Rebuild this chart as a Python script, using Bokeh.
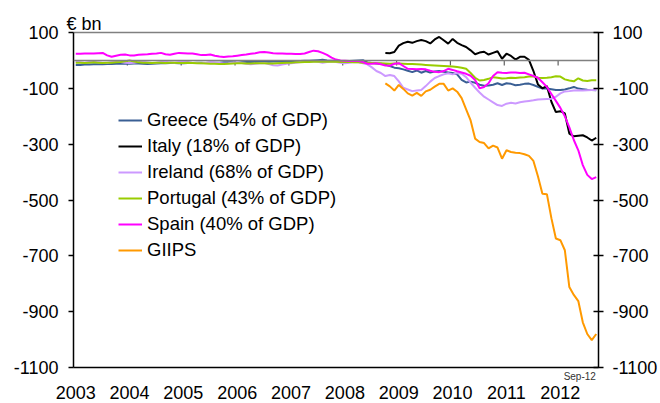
import pandas as pd
from bokeh.plotting import figure
from bokeh.models import (Range1d, LinearAxis, FixedTicker, CustomJSTickFormatter,
                          Legend, LegendItem, Span)
from bokeh.embed import file_html
from bokeh.resources import INLINE

# ---------------- data (EUR bn, monthly) ----------------
full_start = "2003-01"   # Greece, Ireland, Portugal, Spain
late_start = "2008-10"   # Italy, GIIPS
last_month_label = "Sep-12"

greece = [-16, -16, -15, -15, -14, -14, -14, -13, -13, -12, -12, -12,
          -12, -11, -11, -12, -13, -12, -11, -10, -10, -9, -9, -10,
          -10, -9, -9, -8, -8, -9, -8, -8, -8, -7, -7, -7,
          -8, -7, -6, -6, -5, -6, -5, -5, -4, -4, -4, -3,
          -3, -2, -2, -1, -1, 0, 1, 2, 0, -1, -1, -2,
          -2, -2, -1, 0, 1, -7, -9, -11, -12, -15, -20, -26,
          -28, -32, -37, -42, -36, -44, -38, -43, -40, -38, -41, -43,
          -45, -50, -70, -79, -76, -80, -87, -91, -90, -87, -82, -88,
          -82, -84, -89, -87, -84, -83, -88, -95, -101, -101, -103, -106,
          -106, -104, -100, -95, -101, -103, -105, -106, -107]

italy = [27, 26, 30,
         53, 62, 67, 63, 69, 73, 69, 61, 75, 84, 72, 60,
         77, 63, 55, 48, 36, 22, 28, 31, 21, 27, 33, 6,
         24, 16, 3, 13, 13, 2, -38, -86, -100, -92, -148, -185,
         -182, -190, -262, -272, -270, -268, -276, -287, -277]

ireland = [-6, -7, -8, -6, -5, -7, -8, -9, -6, -5, -6, -8,
           -9, -8, -6, -5, -7, -9, -8, -6, -5, -7, -8, -6,
           -5, -6, -8, -9, -10, -8, -6, -7, -9, -11, -10, -8,
           -7, -9, -12, -14, -12, -10, -9, -13, -17, -18, -15, -12,
           -10, -8, -6, -5, -4, -3, -5, -8, -6, -4, -6, -8,
           -10, -8, -6, -7, -10, -14, -25, -38, -45, -56, -52, -56,
           -75, -98, -104, -110, -108, -106, -92, -76, -63, -56, -50, -46,
           -50, -45, -48, -60, -80, -98, -115, -130, -140, -150, -160, -163,
           -155, -152, -154, -150, -147, -145, -143, -140, -139, -138, -137, -130,
           -118, -111, -110, -108, -107, -108, -107, -106, -106]

portugal = [-8, -8, -9, -8, -7, -8, -9, -8, -8, -7, -6, -3,
            0, -4, -7, -8, -8, -9, -8, -8, -9, -8, -8, -9,
            -9, -8, -9, -10, -10, -11, -12, -12, -13, -13, -12, -11,
            -10, -10, -11, -11, -10, -10, -10, -11, -11, -10, -9, -8,
            -8, -7, -7, -6, -6, -5, -5, -5, -4, -5, -5, -6,
            -6, -6, -7, -7, -8, -8, -9, -10, -10, -11, -12, -11,
            -11, -12, -13, -13, -14, -15, -16, -17, -18, -19, -20, -21,
            -22, -24, -26, -30, -45, -62, -72, -70, -66, -60, -62, -65,
            -64, -62, -63, -61, -60, -58, -57, -62, -63, -62, -60, -57,
            -58, -68, -72, -75, -64, -72, -74, -71, -71]

spain = [24, 24, 25, 25, 25, 26, 27, 18, 13, 17, 20, 21,
         18, 18, 20, 21, 22, 24, 25, 27, 22, 20, 24, 27,
         26, 25, 25, 22, 19, 19, 21, 17, 14, 12, 14, 15,
         17, 19, 21, 24, 26, 29, 30, 28, 26, 25, 25, 24,
         24, 23, 23, 25, 30, 35, 33, 27, 20, 10, 3, 0,
         -1, -2, -2, -2, -6, -12, -12, -10, -14, -18, -19, -12,
         -10, -20, -30, -31, -32, -31, -32, -37, -41, -42, -38, -30,
         -34, -39, -43, -48, -55, -70, -100, -95, -82, -56, -42, -44,
         -45, -43, -43, -45, -44, -50, -56, -62, -78, -95, -120, -145,
         -170, -200, -240, -285, -322, -375, -410, -425, -418]

giips = [-82, -93, -108,
         -88, -102, -118, -126, -116, -127, -111, -105, -94, -84, -84, -108,
         -100, -112, -135, -175, -215, -280, -292, -296, -315, -305, -312, -352,
         -322, -328, -331, -332, -336, -342, -360, -415, -478, -479, -565, -638,
         -644, -680, -812, -840, -862, -938, -980, -1002, -980]

series_names = ["Greece (54% of GDP)", "Italy (18% of GDP)", "Ireland (68% of GDP)",
                "Portugal (43% of GDP)", "Spain (40% of GDP)", "GIIPS"]
series_colors = ["#3A5F94", "#000000", "#CC99FF", "#99CC00", "#FF00FF", "#FF9900"]
series_starts = [full_start, late_start, full_start, full_start, full_start, late_start]
series_values = [greece, italy, ireland, portugal, spain, giips]

year_labels = list(range(2003, 2013))
y_ticks = [100, -100, -300, -500, -700, -900, -1100]
y_label = "€ bn"

FONT = "Liberation Sans"
AX_FS = "18px"


def month_x(start, n):
    per = pd.period_range(start, periods=n, freq="M")
    return [q.year + (q.month - 0.5) / 12 for q in per]


x_lo, x_hi = 2003.0, 2012.75
y_lo, y_hi = -1100, 100
FRAME_W, FRAME_H = 525, 335
px_per_year = FRAME_W / (x_hi - x_lo)

p = figure(width=660, height=403, x_range=Range1d(x_lo, x_hi), y_range=Range1d(y_lo, y_hi),
           x_axis_type=None, y_axis_type=None, output_backend="svg", toolbar_location=None,
           min_border_left=73, min_border_right=62, min_border_top=32, min_border_bottom=36)
p.outline_line_color = None
p.background_fill_color = "white"
p.border_fill_color = "white"


def blank_axis(**kw):
    base = dict(major_tick_out=0, major_tick_in=0, minor_tick_out=0, minor_tick_in=0,
                major_label_text_font=FONT, major_label_text_color="black")
    base.update(kw)
    return LinearAxis(**base)


# last-date label axis (directly under the frame), right-aligned to last point
last_x = month_x(late_start, len(giips))[-1]
sep_half_width_px = 16.5
sep_axis = blank_axis(ticker=FixedTicker(ticks=[last_x - sep_half_width_px / px_per_year]),
                      formatter=CustomJSTickFormatter(args=dict(lbl=last_month_label), code="return lbl;"),
                      major_label_standoff=3, major_label_text_font_size="10px",
                      major_label_text_color="#333333",
                      axis_line_color="black", axis_line_width=1.5)
p.add_layout(sep_axis, "below")

# year axis
xaxis = blank_axis(ticker=FixedTicker(ticks=[yr + 0.04 for yr in year_labels]),
                   formatter=CustomJSTickFormatter(code="return Math.floor(tick).toString();"),
                   major_label_standoff=1, major_label_text_font_size=AX_FS,
                   axis_line_color=None)
p.add_layout(xaxis, "below")

yfmt = CustomJSTickFormatter(code="return tick.toFixed(0);")
for side in ("left", "right"):
    ax = LinearAxis(ticker=FixedTicker(ticks=y_ticks), formatter=yfmt,
                    major_tick_out=5, major_tick_in=(5 if side == "right" else 0),
                    minor_tick_out=0, minor_tick_in=0,
                    major_tick_line_color="black", major_tick_line_width=1.5,
                    major_label_standoff=(10 if side == "left" else 9),
                    major_label_text_font_size=AX_FS, major_label_text_font=FONT,
                    major_label_text_color="black",
                    axis_line_color="black", axis_line_width=1.5)
    p.add_layout(ax, side)

# top border line carrying the unit label
unit_center_px = 10.5
top = blank_axis(ticker=FixedTicker(ticks=[x_lo + unit_center_px / px_per_year]),
                 formatter=CustomJSTickFormatter(args=dict(lbl=y_label), code="return lbl;"),
                 major_label_standoff=-1, major_label_text_font_size=AX_FS,
                 axis_line_color="#808080", axis_line_width=1.5)
p.add_layout(top, "above")

# zero line and its year ticks
p.add_layout(Span(location=0, dimension="width", line_color="#808080", line_width=1.5))
tick_len = 5 * (y_hi - y_lo) / FRAME_H
p.segment(x0=year_labels[1:], y0=0, x1=year_labels[1:], y1=-tick_len,
          line_color="#606060", line_width=1.2)

# series
items = []
for name, col, start, vals in zip(series_names, series_colors, series_starts, series_values):
    xs = month_x(start, len(vals))
    r = p.line(xs, vals, line_color=col, line_width=2)
    items.append(LegendItem(label=name, renderers=[r]))

legend = Legend(items=items, location=(45, 106), label_text_font_size="18.5px",
                label_text_font=FONT, label_text_color="black",
                glyph_width=24, glyph_height=20, label_height=20, spacing=4,
                padding=0, margin=0, border_line_color=None,
                background_fill_alpha=0, label_standoff=5)
p.add_layout(legend)

open("out.html", "w").write(file_html(p, INLINE))
